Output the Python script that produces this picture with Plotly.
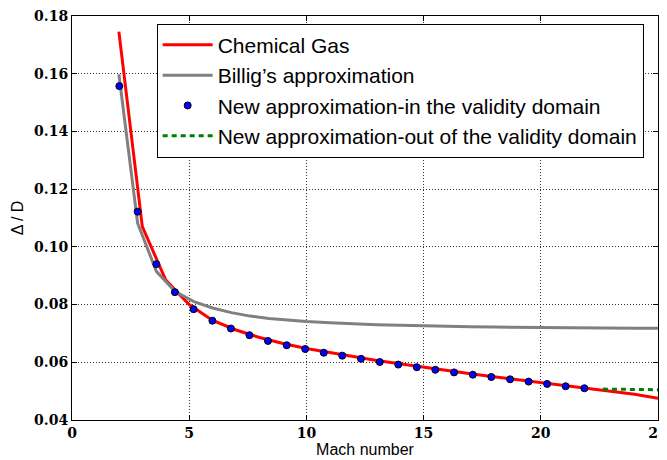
import plotly.graph_objects as go

# Chemical gas (red)
mach_chem = [2, 3, 4, 5, 6, 7, 8, 9, 10, 11, 12, 13, 14, 15, 16, 17, 18, 19, 20, 21, 22, 23, 24, 25]
delta_chem = [0.1746, 0.1070, 0.0885, 0.0800, 0.0745, 0.0712, 0.0686, 0.0665, 0.0648, 0.0633,
              0.0620, 0.0606, 0.0594, 0.0583, 0.0571, 0.0560, 0.0550, 0.0540, 0.0530, 0.0521,
              0.0511, 0.0500, 0.0489, 0.0475]

# Billig's approximation (gray)
mach_billig = [2.0, 2.8, 3.6, 4.4, 5.2, 6.0, 6.8, 7.6, 8.4, 9.2, 10, 11, 12, 13, 14, 15, 16, 17, 18,
               19, 20, 21, 22, 23, 24, 25]
delta_billig = [0.1598, 0.1082, 0.0915, 0.0845, 0.0810, 0.0788, 0.0772, 0.0760, 0.0752, 0.0746,
                0.0741, 0.0737, 0.0733, 0.0730, 0.0728, 0.07255, 0.0724, 0.0723, 0.0722, 0.0721,
                0.0721, 0.0720, 0.0719, 0.0719, 0.0718, 0.0718]

# New approximation - in the validity domain (blue dots)
mach_new = [2.02, 2.80, 3.60, 4.39, 5.19, 5.99, 6.78, 7.57, 8.36, 9.16, 9.95, 10.74, 11.53, 12.33,
            13.13, 13.92, 14.71, 15.50, 16.30, 17.10, 17.89, 18.69, 19.48, 20.27, 21.06, 21.86]
delta_new = [0.1557, 0.1122, 0.0940, 0.0843, 0.0784, 0.0744, 0.0717, 0.0694, 0.0674, 0.0659,
             0.0646, 0.0633, 0.0623, 0.0612, 0.0601, 0.0592, 0.0583, 0.0574, 0.0565, 0.0557,
             0.0549, 0.0541, 0.0533, 0.0525, 0.0517, 0.0510]

# New approximation - out of the validity domain (green dashed)
mach_out = [22.65, 23.5, 24.3, 25]
delta_out = [0.0507, 0.0506, 0.0506, 0.0505]

x_ticks = [0, 5, 10, 15, 20, 25]
y_ticks = [0.04, 0.06, 0.08, 0.10, 0.12, 0.14, 0.16, 0.18]
y_ticklabels = ["0.04", "0.06", "0.08", "0.10", "0.12", "0.14", "0.16", "0.18"]

fig = go.Figure()
fig.add_trace(go.Scatter(x=mach_chem, y=delta_chem, mode="lines", name="Chemical Gas",
                         line=dict(color="#ff0000", width=3)))
fig.add_trace(go.Scatter(x=mach_billig, y=delta_billig, mode="lines", name="Billig’s approximation",
                         line=dict(color="#808080", width=3)))
fig.add_trace(go.Scatter(x=mach_new, y=delta_new, mode="markers",
                         name="New approximation-in the validity domain",
                         marker=dict(color="#0000ff", size=7, line=dict(color="black", width=1))))
fig.add_trace(go.Scatter(x=mach_out, y=delta_out, mode="lines",
                         name="New approximation-out of the validity domain",
                         line=dict(color="#008000", width=3, dash="5px,4px")))

tickfont = dict(family="DejaVu Serif", size=14, color="black", weight="bold")
axis_common = dict(showline=True, linecolor="black", linewidth=1, mirror="ticks",
                   ticks="inside", ticklen=5, tickcolor="black",
                   showgrid=True, gridcolor="#333333", griddash="1px,2px", gridwidth=0.8,
                   zeroline=False, tickfont=tickfont, automargin=False,
                   ticklabeloverflow="allow")

fig.update_layout(
    width=659, height=452,
    margin=dict(l=64, r=9, t=8, b=40),
    paper_bgcolor="white", plot_bgcolor="white",
    font=dict(family="Liberation Sans, Arial, sans-serif", color="black"),
    showlegend=True,
    legend=dict(x=0.1445, y=0.981, xanchor="left", yanchor="top",
                bordercolor="black", borderwidth=1, bgcolor="white",
                font=dict(size=21, family="Liberation Sans, Arial, sans-serif"),
                tracegroupgap=0, itemwidth=50),
    xaxis=dict(range=[0, 25], tickvals=x_ticks, ticktext=[str(v) for v in x_ticks],
               title=dict(text="Mach number", font=dict(size=16), standoff=2), **axis_common),
    yaxis=dict(range=[0.04, 0.18], tickvals=y_ticks, ticktext=y_ticklabels,
               title=dict(text="Δ / D", font=dict(size=16), standoff=6), **axis_common),
)

fig.write_html("out.html")
